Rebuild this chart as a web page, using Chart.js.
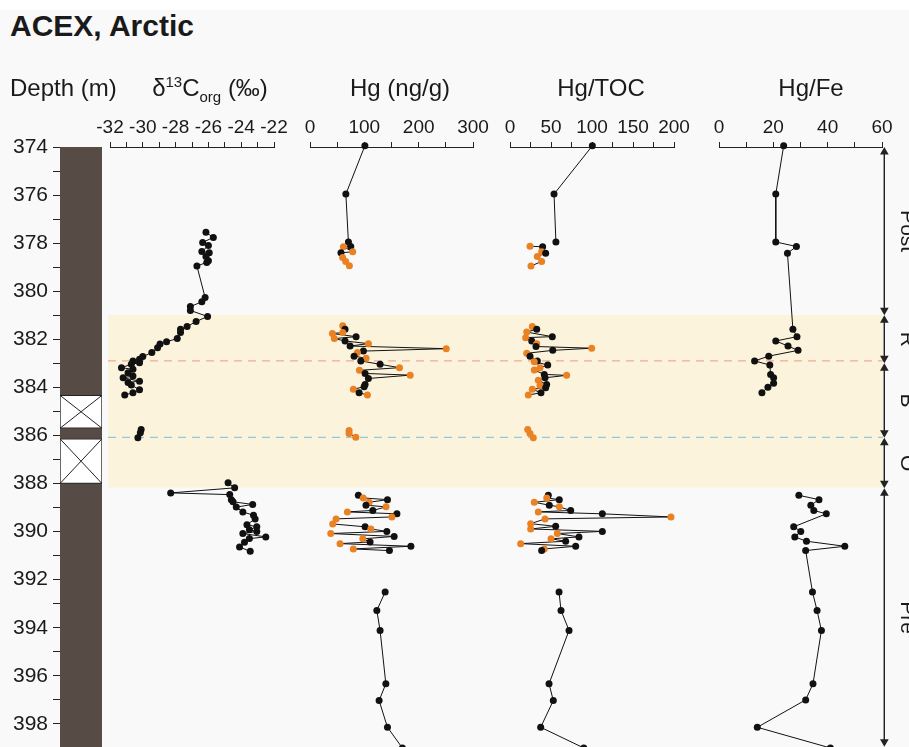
<!DOCTYPE html>
<html>
<head>
<meta charset="utf-8">
<title>ACEX, Arctic</title>
<script src="https://cdn.jsdelivr.net/npm/chart.js@4.4.1/dist/chart.umd.min.js"></script>
<style>
  body { margin: 0; background: #fff; }
  #wrap { position: relative; width: 909px; height: 747px; background: #f9f9f9; overflow: hidden;
          font-family: "Liberation Sans", Arial, Helvetica, sans-serif; color: #1a1a1a; }
  #topstrip { position: absolute; left: 0; top: 0; width: 909px; height: 10px; background: #fff; }
  #wrap canvas { position: absolute; }
  .title { position: absolute; left: 10px; top: 11px; font-size: 30px; line-height: 30px; font-weight: bold; }
  .hd { position: absolute; top: 76px; font-size: 24px; line-height: 24px; white-space: nowrap; }
  .hd.c { transform: translateX(-50%); }
  .hd sup { font-size: 15px; vertical-align: 9px; line-height: 0; }
  .hd sub { font-size: 15px; vertical-align: -6px; line-height: 0; }
</style>
</head>
<body>
<div id="wrap">
  <div id="topstrip"></div>
  <canvas id="band" width="775" height="687" style="left:108px;top:100px"></canvas>
  <canvas id="depth" width="102" height="687" style="left:0px;top:100px"></canvas>
  <canvas id="d13c" width="204" height="687" style="left:90px;top:100px"></canvas>
  <canvas id="hg" width="203" height="687" style="left:290px;top:100px"></canvas>
  <canvas id="toc" width="204" height="687" style="left:490px;top:100px"></canvas>
  <canvas id="fe" width="203" height="687" style="left:699px;top:100px"></canvas>
  <canvas id="phase" width="41" height="687" style="left:868px;top:100px"></canvas>

  <div class="title">ACEX, Arctic</div>
  <div class="hd" style="left:10px">Depth (m)</div>
  <div class="hd c" style="left:210px">δ<sup>13</sup>C<sub>org</sub> (‰)</div>
  <div class="hd c" style="left:400px">Hg (ng/g)</div>
  <div class="hd c" style="left:601px">Hg/TOC</div>
  <div class="hd c" style="left:811px">Hg/Fe</div>
</div>

<script>
// ---- data (depth in m, nulls = breaks in the profile) ----
const d13cDepth = [377.55, 377.76, 377.97, 378.10, 378.35, 378.40, 378.56, 378.73, 378.80, 378.95,
  380.26, 380.44, 380.64, 380.80, 381.05, 381.26, 381.47, 381.58, 381.72, 381.97,
  382.10, 382.20, 382.35, 382.55, 382.72, 382.83, 382.90, 382.97, 383.04, 383.18,
  383.25, 383.39, 383.53, 383.60, 383.74, 383.80, 383.90, 384.10, 384.22, 384.32, null,
  385.75, 385.89, 386.10, null,
  387.97, 388.18, 388.39, 388.46, 388.67, 388.76, 388.87, 388.98, 389.18, 389.32,
  389.47, 389.71, 389.80, 389.92, 389.99, 390.08, 390.22, 390.29, 390.44, 390.64, 390.82];
const d13cValue = [-26.15, -25.7, -26.35, -26.0, -26.4, -25.95, -26.15, -26.0, -26.1, -26.7,
  -26.2, -26.4, -27.1, -27.1, -26.05, -26.75, -27.3, -27.7, -27.7, -27.9,
  -28.55, -28.95, -29.1, -29.45, -30.0, -30.2, -30.6, -30.2, -30.7, -31.3,
  -30.6, -30.9, -30.6, -31.2, -30.2, -30.9, -30.7, -30.2, -30.6, -31.1, null,
  -30.1, -30.15, -30.3, null,
  -24.8, -24.4, -28.3, -24.7, -24.6, -24.5, -23.3, -24.3, -23.9, -23.25,
  -23.15, -23.65, -23.05, -23.5, -23.05, -23.9, -22.5, -23.5, -23.8, -24.1, -23.45];

const hgDepth = [373.95, 375.96, 377.95, 378.14, 378.15, 378.36, 378.40, 378.60, 378.76, 378.94, null,
  381.44, 381.58, 381.72, 381.76, 381.89, 381.97, 382.07, 382.18, 382.28, 382.39,
  382.49, 382.55, 382.70, 382.79, 382.90, 383.04, 383.18, 383.29, 383.42, 383.49,
  383.63, 383.88, 383.97, 384.08, 384.22, 384.32, null,
  385.79, 385.92, 386.07, null,
  388.49, 388.60, 388.67, 388.78, 388.90, 388.97, 389.12, 389.18, 389.26, 389.39,
  389.47, 389.68, 389.80, 389.89, 389.99, 390.08, 390.20, 390.30, 390.43, 390.50,
  390.61, 390.72, 390.79, null,
  392.51, 393.28, 394.11, 396.33, 397.03, 398.14, 399.0];
const hgValue = [101, 66, 70.7, 75, 61.5, 78.6, 57, 60, 65.7, 72.5, null,
  60.3, 64.5, 60.3, 41.2, 84.8, 44.8, 64.5, 107.5, 73.8, 250.8,
  98.3, 87.2, 81.1, 103.3, 93.5, 129, 164.7, 91, 101.4, 184.4,
  107.5, 101.4, 99.6, 79.8, 90.4, 105.7, null,
  71.9, 71.9, 84.3, null,
  89, 98, 142.6, 108.8, 103, 140, 115.6, 68.8, 160, 150.6,
  48, 41.8, 101.4, 112, 141.4, 38.2, 154.9, 97.2, 110.6, 55.3,
  185.7, 79.8, 146.2, null,
  138.3, 123, 129, 139.6, 127.2, 142.6, 170];
// k = black samples, o = orange samples, . = break
const hgKind = 'kkkkookooo.okookokokokokokkookokkkoko.ooo.kokokokokoookokokokokok.kkkkkkk'.split('');

const tocDepth = [373.95, 375.96, 377.95, null,
  378.13, 378.15, 378.36, 378.42, 378.55, 378.76, 378.95, null,
  381.47, 381.58, 381.70, 381.89, 381.93, 382.07, 382.18, 382.30, 382.37, 382.46,
  382.58, 382.70, 382.90, 382.93, 383.07, 383.18, 383.28, 383.46, 383.50, 383.60,
  383.70, 383.88, 383.92, 384.01, 384.08, 384.22, 384.32, null,
  385.75, 385.92, 386.10, null,
  388.49, 388.60, 388.67, 388.78, 388.90, 388.97, 389.12, 389.18, 389.26, 389.39,
  389.47, 389.67, 389.78, 389.89, 389.99, 390.08, 390.22, 390.30, 390.40, 390.50,
  390.61, 390.72, 390.79, null,
  392.51, 393.28, 394.11, 396.33, 397.03, 398.14, 399.0];
const tocValue = [100.4, 53.7, 56, null,
  24.4, 39.8, 38.6, 43.5, 33.3, 38.6, 25.6, null,
  27.2, 32.6, 20.4, 51.6, 19.1, 26.5, 32.6, 31.7, 99.6, 52.1,
  20.4, 24.4, 33.3, 29.6, 46, 36.6, 29.6, 41.8, 69.1, 42.7,
  34.5, 44.7, 36.6, 43.5, 27.2, 37.8, 22.3, null,
  21.6, 24.4, 28.4, null,
  46.7, 44.8, 60.1, 29.6, 47.9, 60.1, 74, 34.5, 112.6, 196.3,
  42.7, 25.2, 55.7, 25.2, 112.6, 57.7, 84.1, 50, 67.9, 13,
  80.1, 41.8, 38.6, null,
  59.8, 62.2, 72, 47.6, 52.8, 37.4, 90];
const tocKind = 'kkk.okokooo.okokokokokokkokookokokokoko.ooo.kokokokokoookokokokokok.kkkkkkk'.split('');

const feDepth = [373.95, 375.96, 377.95, 378.14, 378.42, 381.58, 381.89, 382.07, 382.28, 382.46,
  382.70, 382.90, 383.07, 383.46, 383.60, 383.83, 383.99, 384.22, null,
  388.49, 388.67, 388.90, 389.12, 389.26, 389.80, 389.99, 390.22, 390.40, 390.61,
  390.79, 392.51, 393.28, 394.11, 396.33, 397.00, 398.14, 399.0];
const feValue = [23.8, 20.9, 20.9, 28.5, 25.2, 27.2, 28.7, 20.9, 25.4, 29.1,
  18.3, 13.1, 18.7, 19, 20.1, 20.1, 18, 15.8, null,
  29.4, 36.8, 33.8, 34.9, 39.5, 27.5, 30.1, 27.9, 32.2, 46.3,
  31.9, 34.4, 36.1, 37.7, 34.6, 31.9, 14.1, 41];

// lithology gaps (core not recovered), shaded interval, marker lines, phases
const gapTop = [384.33, 386.14];
const gapBottom = [385.70, 388.00];
const bandRange = [381.0, 388.15];
const redLineDepth = 382.9;
const tealLineDepth = 386.08;
const phaseBounds = [374, 381, 383, 386.1, 388.2, 398.95];
const phaseNames = ['Post', 'R', 'B', 'O', 'Pre'];

// ---- setup ----
const FONT = '"Liberation Sans", Arial, Helvetica, sans-serif';
Chart.defaults.font.family = FONT;
Chart.defaults.color = '#1a1a1a';

const Y_MIN = 374, Y_MAX = 398.96;
const PAD_B = 40; // canvases run 40px past the bottom edge so the plot area ends at the page edge
const BLACK = '#111111', ORANGE = '#ea8123';
const base = {
  responsive: false, animation: false, events: [],
  plugins: { legend: { display: false }, tooltip: { enabled: false } }
};
function depthScale(extra) {
  return Object.assign({ type: 'linear', reverse: true, min: Y_MIN, max: Y_MAX, display: false, beginAtZero: false }, extra || {});
}

// shaded interval + dashed lines behind everything
new Chart(document.getElementById('band'), {
  type: 'bar',
  data: { datasets: [
    { type: 'bar', order: 2, data: [{ x: 0.5, y: bandRange }], backgroundColor: '#fbf3dc', barThickness: 775, grouped: false, borderWidth: 0 },
    { type: 'line', order: 1, data: [{ x: 0, y: redLineDepth }, { x: 1, y: redLineDepth }], borderColor: '#f2ab94', borderWidth: 1.3, borderDash: [8, 6], pointRadius: 0 },
    { type: 'line', order: 1, data: [{ x: 0, y: tealLineDepth }, { x: 1, y: tealLineDepth }], borderColor: '#8fcbd6', borderWidth: 1.3, borderDash: [8, 6], pointRadius: 0 }
  ] },
  options: { ...base, layout: { padding: { top: 47, left: 0, right: 0, bottom: PAD_B } },
    scales: { x: { type: 'linear', min: 0, max: 1, display: false, offset: false }, y: depthScale() } }
});

// depth axis + lithology column
const lithSets = [
  { type: 'bar', order: 3, data: [{ x: 0.5, y: [Y_MIN, Y_MAX] }], backgroundColor: '#574b45', barThickness: 42, grouped: false, borderWidth: 0 }
];
gapTop.forEach((t, i) => {
  const b = gapBottom[i];
  lithSets.push({ type: 'bar', order: 2, data: [{ x: 0.5, y: [t, b] }], backgroundColor: '#ffffff', borderColor: '#222', borderWidth: 1, borderSkipped: false, barThickness: 42, grouped: false });
  lithSets.push({ type: 'line', order: 1, data: [{ x: 0, y: t }, { x: 1, y: b }], borderColor: '#222', borderWidth: 1, pointRadius: 0 });
  lithSets.push({ type: 'line', order: 1, data: [{ x: 1, y: t }, { x: 0, y: b }], borderColor: '#222', borderWidth: 1, pointRadius: 0 });
});
new Chart(document.getElementById('depth'), {
  type: 'bar',
  data: { datasets: lithSets },
  options: { ...base, layout: { padding: { top: 47, left: 0, right: 0, bottom: PAD_B } },
    scales: {
      x: { type: 'linear', min: 0, max: 1, display: false, offset: false },
      y: { type: 'linear', position: 'left', reverse: true, min: Y_MIN, max: Y_MAX, beginAtZero: false,
        ticks: { stepSize: 1, autoSkip: false, includeBounds: false, padding: 5, font: { size: 21 }, color: '#1a1a1a',
          callback: v => (v % 2 === 0 ? String(v) : '') },
        grid: { drawOnChartArea: false, tickLength: 7, tickColor: '#222', color: '#222' },
        border: { display: true, color: '#222', width: 1 },
        afterFit: s => { s.width = 60; } }
    } }
});

// one profile panel
function drawPanel(id, axis, depths, values, kinds) {
  const pts = depths.map((d, i) => ({ x: values[i], y: d }));
  const cols = depths.map((d, i) => (kinds && kinds[i] === 'o' ? ORANGE : BLACK));
  new Chart(document.getElementById(id), {
    type: 'line',
    data: { datasets: [{
      data: pts, borderColor: '#111', borderWidth: 1, tension: 0, spanGaps: false, clip: false,
      pointRadius: 3.5, pointBorderWidth: 0, pointBackgroundColor: cols, pointBorderColor: cols
    }] },
    options: { ...base, layout: { padding: { left: 20, right: 20, top: 0, bottom: PAD_B } },
      scales: {
        x: { type: 'linear', position: 'top', min: axis.min, max: axis.max, offset: false,
          ticks: { stepSize: axis.step, autoSkip: false, maxRotation: 0, includeBounds: false, padding: 3,
            font: { size: 19 }, color: '#1a1a1a',
            callback: v => (Math.abs(v % axis.label) < 1e-9 ? String(v) : '') },
          grid: { drawOnChartArea: false, tickLength: 5, tickColor: '#222', color: '#222' },
          border: { display: true, color: '#222', width: 1 },
          afterFit: s => { s.height = 47; } },
        y: depthScale()
      } }
  });
}

drawPanel('d13c', { min: -32, max: -22, step: 1, label: 2 }, d13cDepth, d13cValue, null);
drawPanel('hg', { min: 0, max: 300, step: 50, label: 100 }, hgDepth, hgValue, hgKind);
drawPanel('toc', { min: 0, max: 200, step: 25, label: 50 }, tocDepth, tocValue, tocKind);
drawPanel('fe', { min: 0, max: 60, step: 10, label: 20 }, feDepth, feValue, null);

// phase arrows on the right
const ARROW_X = 15, ARROW_R = 5;
const mPerPx = (Y_MAX - Y_MIN) / 600;
const phaseSets = phaseNames.map((n, i) => ({
  type: 'line',
  data: [{ x: ARROW_X, y: phaseBounds[i] + ARROW_R * mPerPx }, { x: ARROW_X, y: phaseBounds[i + 1] - ARROW_R * mPerPx }],
  borderColor: '#222', borderWidth: 1, clip: false,
  pointStyle: 'triangle', pointRadius: ARROW_R, pointRotation: [0, 180],
  pointBackgroundColor: '#222', pointBorderColor: '#222', pointBorderWidth: 0
}));
const phaseLabels = {
  id: 'phaseLabels',
  afterDatasetsDraw(chart) {
    const { ctx } = chart;
    const y = chart.scales.y;
    ctx.save();
    ctx.font = '21px ' + FONT;
    ctx.fillStyle = '#1a1a1a';
    ctx.textAlign = 'center';
    ctx.textBaseline = 'top';
    phaseNames.forEach((n, i) => {
      const ym = y.getPixelForValue((phaseBounds[i] + phaseBounds[i + 1]) / 2);
      ctx.save();
      ctx.translate(49, ym);
      ctx.rotate(Math.PI / 2);
      ctx.fillText(n, 0, 0);
      ctx.restore();
    });
    ctx.restore();
  }
};
new Chart(document.getElementById('phase'), {
  type: 'line',
  data: { datasets: phaseSets },
  options: { ...base, layout: { padding: { top: 47, left: 0, right: 0, bottom: PAD_B } },
    scales: { x: { type: 'linear', min: 0, max: 41, display: false, offset: false }, y: depthScale() } },
  plugins: [phaseLabels]
});
</script>
</body>
</html>
